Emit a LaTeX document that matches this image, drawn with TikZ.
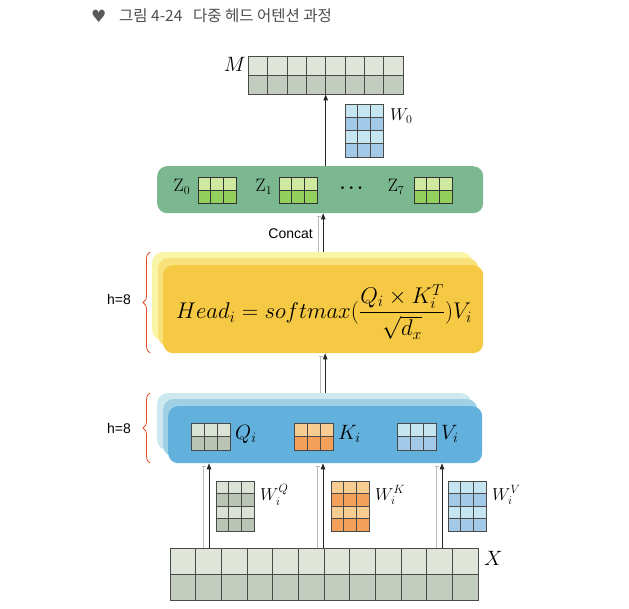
\documentclass[tikz,border=0pt]{standalone}
\usepackage{fontspec}
\usepackage{amsmath}
\usepackage{graphicx}
\newfontfamily\krfont{Noto Sans CJK KR}
\newfontfamily\lsans{Liberation Sans}
\newfontfamily\dvs{DejaVu Sans}
\usetikzlibrary{arrows.meta,decorations.pathreplacing}
\definecolor{mtop}{HTML}{DFE6D9}
\definecolor{mbot}{HTML}{C3CDBF}
\definecolor{wlc}{HTML}{C5E6F1}
\definecolor{wdc}{HTML}{A3C9E9}
\definecolor{gtop}{HTML}{DBE3D6}
\definecolor{gbot}{HTML}{B9C4B4}
\definecolor{otop}{HTML}{F9CC92}
\definecolor{obot}{HTML}{F2A05A}
\definecolor{ztop}{HTML}{CFE8A0}
\definecolor{zbot}{HTML}{93CF5D}
\definecolor{zbox}{HTML}{7BB78F}
\definecolor{hback}{HTML}{FAF4A6}
\definecolor{hmid}{HTML}{F8E07A}
\definecolor{hfront}{HTML}{F6C945}
\definecolor{qback}{HTML}{CDE9EF}
\definecolor{qmid}{HTML}{9FD0E3}
\definecolor{qfront}{HTML}{62B0DC}
\definecolor{brc}{HTML}{E0502A}
\definecolor{gridc}{HTML}{4A4A4A}
\newcommand{\gridmat}[7]{%
  \foreach \cc [count=\rr from 0] in {#6}{%
    \foreach \kk in {1,...,#3}{%
      \filldraw[fill=\cc, draw=#7, line width=0.5pt] ({#1+(\kk-1)*#4},{#2+\rr*#5}) rectangle ++(#4,#5);
    }%
  }%
}
\tikzset{
  arr/.style={-{Triangle[length=6pt,width=4.5pt]}, line width=0.9pt, black!85},
  shad/.style={-{Bar[width=4pt]}, gray!55, line width=0.8pt},
  layer/.style={rounded corners=10pt, inner sep=0pt, anchor=north west},
  matbox/.style={inner sep=0pt, anchor=north west},
  lbl/.style={inner sep=0pt},
  brc/.style={decorate, decoration={brace, amplitude=7pt}, draw=brc, line width=0.8pt}
}
\begin{document}
\begin{tikzpicture}[x=1pt,y=-1pt]
\useasboundingbox (0,0) rectangle (629,609);
% title
\node[lbl, anchor=west, text=black!65] (icon) at (91,16) {\dvs\fontsize{17}{19}\selectfont ♥};
\node[lbl, anchor=west, text=black!70] (title) at (119,16) {\krfont\fontsize{15.5}{18}\selectfont 그림 4-24\hspace{0.7em}다중 헤드 어텐션 과정};

% M matrix
\node[matbox, minimum width=155pt, minimum height=38pt] (Mmat) at (248,56) {};
\gridmat{248}{56}{8}{19.375}{19}{mtop,mbot}{gridc}
\node[lbl, anchor=east] (Mlbl) at (246,64) {\fontsize{20}{22}\selectfont $M$};

% W0
\node[matbox, minimum width=38pt, minimum height=53pt] (W0) at (345,104) {};
\gridmat{345}{104}{3}{12.67}{13.25}{wlc,wdc,wlc,wdc}{gridc}
\node[lbl, anchor=west] (W0lbl) at (390,116) {\fontsize{18}{20}\selectfont $W_0$};

% Z box
\node[layer, fill=zbox, minimum width=326pt, minimum height=47pt] (Zbox) at (157,166) {};
\node[lbl] (Z0) at (182,187) {\fontsize{18}{20}\selectfont $\mathrm{Z}_0$};
\node[matbox, minimum width=38pt, minimum height=26pt] (Z0m) at (198,177) {};
\gridmat{198}{177}{3}{12.67}{13}{ztop,zbot}{black!80}
\node[lbl] (Z1) at (264,187) {\fontsize{18}{20}\selectfont $\mathrm{Z}_1$};
\node[matbox, minimum width=38pt, minimum height=26pt] (Z1m) at (279,177) {};
\gridmat{279}{177}{3}{12.67}{13}{ztop,zbot}{black!80}
\node[lbl] (dots) at (353,188) {\fontsize{16}{18}\selectfont $\boldsymbol{\cdots}$};
\node[lbl] (Z7) at (396,187) {\fontsize{18}{20}\selectfont $\mathrm{Z}_7$};
\node[matbox, minimum width=38pt, minimum height=26pt] (Z7m) at (414,177) {};
\gridmat{414}{177}{3}{12.67}{13}{ztop,zbot}{black!80}

% Head box
\node[layer, fill=hback, minimum width=320pt, minimum height=88pt] (Hback) at (152,252) {};
\node[layer, fill=hmid, minimum width=320pt, minimum height=88pt] (Hmid) at (158,258) {};
\node[layer, fill=hfront, minimum width=320pt, minimum height=88pt] (Hbox) at (163,265) {};
\node[lbl] (formula) at (324,312) {\resizebox{296pt}{!}{\fontsize{21}{25}\selectfont $\displaystyle Head_i = softmax(\frac{Q_i\times K_i^{T}}{\sqrt{d_x}})V_i$}};

% QKV box
\node[layer, fill=qback, minimum width=314pt, minimum height=57pt] (Qback) at (157,393) {};
\node[layer, fill=qmid, minimum width=314pt, minimum height=57pt] (Qmid) at (163,399) {};
\node[layer, fill=qfront, minimum width=314pt, minimum height=57pt] (Qbox) at (168,406) {};
\node[matbox, minimum width=39pt, minimum height=27pt] (Qm) at (191,423) {};
\gridmat{191}{423}{3}{13}{13.5}{gtop,gbot}{gridc}
\node[lbl, anchor=west] (Qlbl) at (235,434) {\fontsize{20}{22}\selectfont $Q_i$};
\node[matbox, minimum width=39pt, minimum height=27pt] (Km) at (294,423) {};
\gridmat{294}{423}{3}{13}{13.5}{otop,obot}{gridc}
\node[lbl, anchor=west] (Klbl) at (338,434) {\fontsize{20}{22}\selectfont $K_i$};
\node[matbox, minimum width=39pt, minimum height=27pt] (Vm) at (397,423) {};
\gridmat{397}{423}{3}{13}{13.5}{wlc,wdc}{gridc}
\node[lbl, anchor=west] (Vlbl) at (441,434) {\fontsize{20}{22}\selectfont $V_i$};

% braces and h=8
\draw[brc] (150,353) -- (150,252);
\node[lbl, anchor=east] (h1) at (131,299) {\lsans\fontsize{14}{16}\selectfont h=8};
\draw[brc] (150,463) -- (150,393);
\node[lbl, anchor=east] (h2) at (131,428) {\lsans\fontsize{14}{16}\selectfont h=8};

% W matrices
\node[matbox, minimum width=38pt, minimum height=50pt] (WQ) at (216,481) {};
\gridmat{216}{481}{3}{12.67}{12.5}{gtop,gbot,gtop,gbot}{gridc}
\node[lbl, anchor=west] (WQlbl) at (260,495) {\fontsize{18}{20}\selectfont $W_i^{Q}$};
\node[matbox, minimum width=38pt, minimum height=50pt] (WK) at (331,481) {};
\gridmat{331}{481}{3}{12.67}{12.5}{otop,obot,otop,obot}{gridc}
\node[lbl, anchor=west] (WKlbl) at (375,495) {\fontsize{18}{20}\selectfont $W_i^{K}$};
\node[matbox, minimum width=38pt, minimum height=50pt] (WV) at (448,481) {};
\gridmat{448}{481}{3}{12.67}{12.5}{wlc,wdc,wlc,wdc}{gridc}
\node[lbl, anchor=west] (WVlbl) at (492,495) {\fontsize{18}{20}\selectfont $W_i^{V}$};

% X matrix
\node[matbox, minimum width=308pt, minimum height=52pt] (Xm) at (170,548) {};
\gridmat{170}{548}{12}{25.67}{26}{mtop,mbot}{gridc}
\node[lbl, anchor=west] (Xlbl) at (484,558) {\fontsize{20}{22}\selectfont $X$};

% connectors
\coordinate (a1) at (209,0);
\coordinate (a2) at (323,0);
\coordinate (a3) at (442,0);
\foreach \a in {a1,a2,a3}{
  \draw[shad] ([xshift=-5.5pt]Xm.north -| \a) -- ([xshift=-5.5pt,yshift=-3pt]Qbox.south -| \a);
  \draw[arr] (Xm.north -| \a) -- (Qbox.south -| \a);
}
\draw[shad] ([xshift=-4.5pt]Qbox.center |- Qback.north) -- ([xshift=-4.5pt,yshift=-3pt]Qbox.center |- Hbox.south);
\draw[arr] (Qbox.center |- Qback.north) -- (Qbox.center |- Hbox.south);
\draw[shad] ([xshift=-4.5pt]Hbox.center |- Hback.north) -- ([xshift=-4.5pt,yshift=-3pt]Hbox.center |- Zbox.south);
\draw[arr] (Hbox.center |- Hback.north) -- (Hbox.center |- Zbox.south);
\node[lbl, anchor=east] (concat) at (313,234) {\lsans\fontsize{14}{16}\selectfont Concat};
\draw[arr] (Mmat.south |- Zbox.north) -- (Mmat.south);
\end{tikzpicture}
\end{document}
